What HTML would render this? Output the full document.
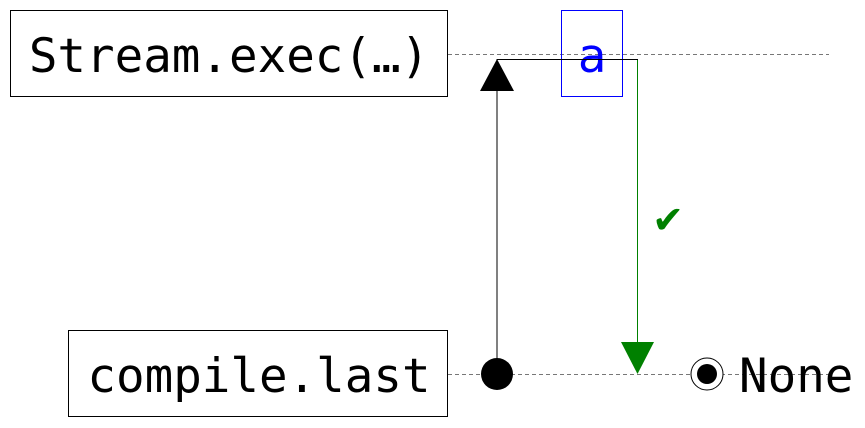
<!DOCTYPE html>
<html><head><meta charset="utf-8"><style>
html,body{margin:0;padding:0;background:#fff;width:865px;height:428px;overflow:hidden}
svg{display:block}
text{font-family:"DejaVu Sans Mono","Liberation Mono",monospace}
</style></head><body>
<svg width="865" height="428" viewBox="0 0 865 428" xmlns="http://www.w3.org/2000/svg">
<line x1="448" y1="54.5" x2="829" y2="54.5" stroke="#777" stroke-width="1" stroke-dasharray="4,3"/>
<line x1="448" y1="374.5" x2="829" y2="374.5" stroke="#777" stroke-width="1" stroke-dasharray="4,3"/>
<rect x="10.5" y="10.5" width="437" height="86" fill="#fff" stroke="#000" stroke-width="1"/>
<text x="229" y="72" font-size="47.5" text-anchor="middle" fill="#000">Stream.exec(…)</text>
<rect x="68.5" y="330.5" width="379" height="86" fill="#fff" stroke="#000" stroke-width="1"/>
<text x="259" y="392" font-size="47.5" text-anchor="middle" fill="#000">compile.last</text>
<rect x="561.5" y="10.5" width="61" height="86" fill="none" stroke="#00f" stroke-width="1"/>
<text x="592" y="72" font-size="47.5" text-anchor="middle" fill="#00f">a</text>
<polyline points="497,374 497,59.5 638,59.5" fill="none" stroke="#000" stroke-width="1"/>
<line x1="637.5" y1="60" x2="637.5" y2="350" stroke="#008000" stroke-width="1"/>
<polygon points="497,59 480,91 514,91" fill="#000"/>
<polygon points="621,342 654,342 637.5,374" fill="#008000"/>
<circle cx="497" cy="374" r="16" fill="#000"/>
<circle cx="707" cy="374" r="16" fill="#fff" stroke="#000" stroke-width="1"/>
<circle cx="707" cy="374" r="10" fill="#000"/>
<text x="739" y="392" font-size="47.5" fill="#000">None</text>
<text x="668" y="233" font-size="38" text-anchor="middle" fill="#008000" style='font-family:"DejaVu Sans",sans-serif'>✔</text>
</svg>
</body></html>
